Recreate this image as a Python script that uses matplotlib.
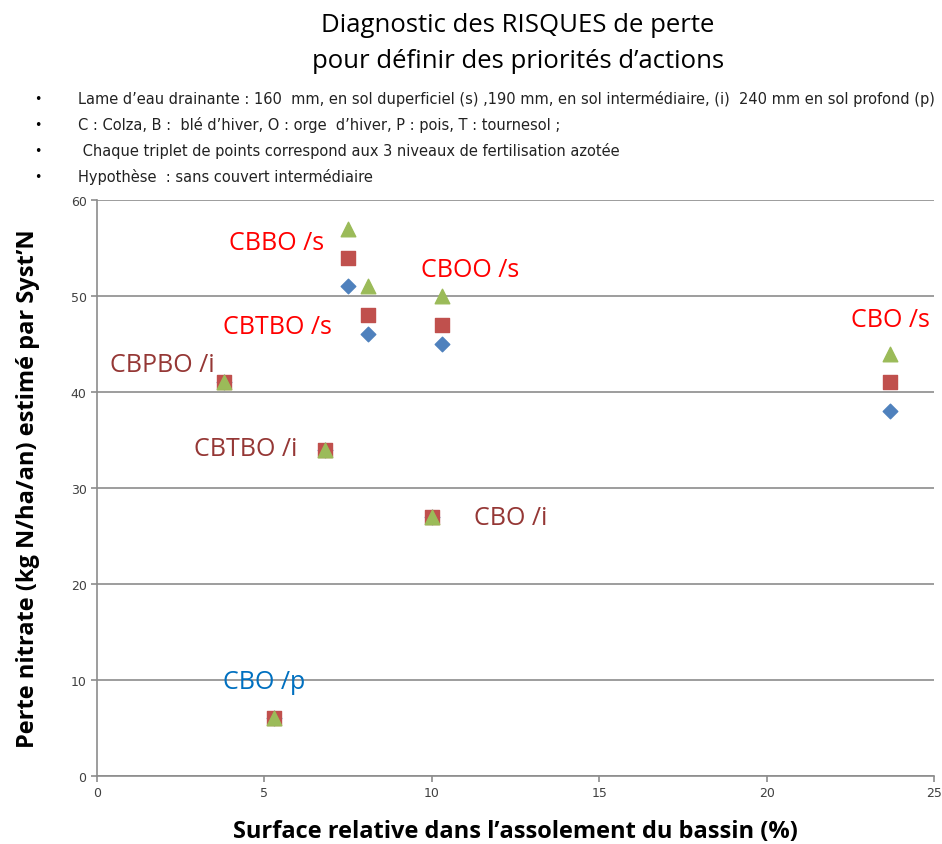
import matplotlib
matplotlib.use("Agg")
import matplotlib.pyplot as plt

# surface relative (%) and nitrate loss for the 3 fertilisation levels
surface = [7.5, 8.1, 10.3, 23.7, 3.8, 6.8, 10.0, 5.3]
perte_bas = [51, 46, 45, 38, 41, 34, 27, 6]
perte_moy = [54, 48, 47, 41, 41, 34, 27, 6]
perte_haut = [57, 51, 50, 44, 41, 34, 27, 6]

labels = ["CBBO /s", "CBOO /s", "CBTBO /s", "CBO /s",
          "CBPBO /i", "CBTBO /i", "CBO /i", "CBO /p"]
label_x = [5.35, 11.15, 5.4, 23.7, 1.95, 4.45, 12.35, 5.0]
label_y = [55.6, 52.8, 46.8, 47.6, 42.9, 34.1, 26.9, 9.8]
label_col = ["#ff0000"] * 4 + ["#953735"] * 3 + ["#0070c0"]

bullets = [
    "Lame d\u2019eau drainante : 160  mm, en sol duperficiel (s) ,190 mm, en sol interm\u00e9diaire, (i)  240 mm en sol profond (p)",
    "C : Colza, B :  bl\u00e9 d\u2019hiver, O : orge  d\u2019hiver, P : pois, T : tournesol ;",
    " Chaque triplet de points correspond aux 3 niveaux de fertilisation azot\u00e9e",
    "Hypoth\u00e8se  : sans couvert interm\u00e9diaire",
]

fig = plt.figure(figsize=(9.42, 8.45), dpi=100)
ax = fig.add_axes([97 / 942, 68 / 845, 837 / 942, 576 / 845])

ax.scatter(surface, perte_bas, marker="D", s=55, color="#4f81bd", zorder=3)
ax.scatter(surface, perte_moy, marker="s", s=100, color="#c0504d", zorder=4)
ax.scatter(surface, perte_haut, marker="^", s=110, color="#9bbb59", zorder=5)

for t, x, y, c in zip(labels, label_x, label_y, label_col):
    ax.text(x, y, t, color=c, fontsize=18, family="Open Sans", ha="center", va="center")

ax.set_xlim(0, 25)
ax.set_ylim(0, 60)
ax.set_xticks(range(0, 26, 5))
ax.set_yticks(range(0, 61, 10))
ax.yaxis.grid(True, color="#8c8c8c", linewidth=1.2)
ax.set_axisbelow(True)
for s in ["top", "right"]:
    ax.spines[s].set_visible(False)
for s in ["left", "bottom"]:
    ax.spines[s].set_color("#8c8c8c")
    ax.spines[s].set_linewidth(1.2)
ax.tick_params(colors="#8c8c8c", labelcolor="#404040", labelsize=9, length=4, width=1.2)

ax.set_xlabel("Surface relative dans l\u2019assolement du bassin (%)", fontsize=17,
              fontweight="bold", family="Open Sans", labelpad=14)
ax.set_ylabel("Perte nitrate (kg N/ha/an) estim\u00e9 par Syst\u2019N", fontsize=17,
              fontweight="bold", family="Open Sans", labelpad=22)

fig.text(518 / 942, 1 - 26 / 845, "Diagnostic des RISQUES de perte", ha="center", va="center",
         fontsize=18.5, family="Open Sans", color="black")
fig.text(518 / 942, 1 - 62 / 845, "pour d\u00e9finir des priorit\u00e9s d\u2019actions", ha="center",
         va="center", fontsize=18.5, family="Open Sans", color="black")

for i, b in enumerate(bullets):
    y = 1 - (99 + i * 26) / 845
    fig.text(34 / 942, y, "\u2022", ha="left", va="center", fontsize=9)
    fig.text(78 / 942, y, b, ha="left", va="center", fontsize=10.5, color="#222222")

fig.savefig("out.png", dpi=100)
